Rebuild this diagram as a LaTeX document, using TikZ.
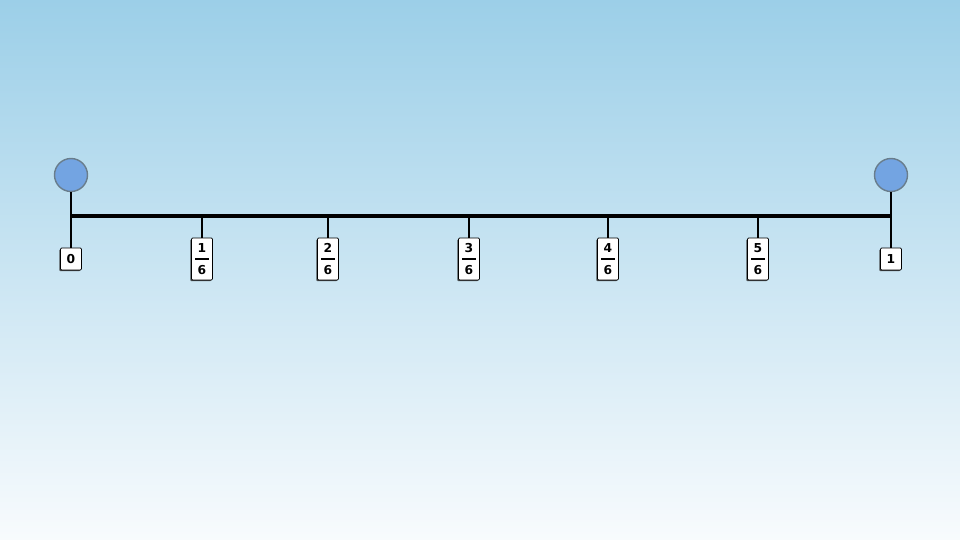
\documentclass[tikz,border=0pt]{standalone}
\usepackage{amsmath}
\usepackage{fontspec}
\setmainfont{DejaVu Sans}
\usepackage{xcolor}
\definecolor{skytop}{RGB}{156,207,232}
\definecolor{skybottom}{RGB}{248,251,253}
\definecolor{dotblue}{RGB}{115,164,226}
\definecolor{dotrim}{RGB}{105,125,140}
\usetikzlibrary{shadows}

\begin{document}
\begin{tikzpicture}[x=0.02cm, y=-0.02cm, every node/.style={font=\bfseries\fontsize{7}{8}\selectfont},
  dot/.style={circle, fill=dotblue, draw=dotrim, line width=0.8pt, minimum size=0.66cm, inner sep=0pt},
  lbl/.style={draw, fill=white, line width=0.4pt, rounded corners=0.6pt, inner sep=0pt, minimum width=0.42cm,
    drop shadow={shadow xshift=-0.7pt, shadow yshift=-0.7pt, opacity=0.85, fill=black!80}},
  stem/.style={line width=1.1pt},
  axis/.style={line width=2.3pt}]
  \fill[top color=skytop, bottom color=skybottom] (0,0) rectangle (960,540);
  \useasboundingbox (0,0) rectangle (960,540);
  % end points
  \node[dot] (s) at (71,175) {};
  \node[dot] (e) at (891,175) {};
  \node[lbl, minimum height=0.44cm] (l0) at (71,259) {0};
  \node[lbl, minimum height=0.44cm] (l6) at (891,259) {1};
  \coordinate (a0) at (71,216);
  \coordinate (a6) at (891,216);
  \draw[stem] (s) -- (l0);
  \draw[stem] (e) -- (l6);
  % sixths
  \foreach \x/\n in {202/1, 328/2, 469/3, 608/4, 758/5} {
    \node[lbl, minimum height=0.84cm] (f\n) at (\x,259) {$\genfrac{}{}{1pt}{0}{\makebox[7.5pt]{\n}}{\makebox[7.5pt]{6}}$};
    \coordinate (t\n) at (\x,216);
    \draw[stem] (t\n) -- (f\n);
  }
  \draw[axis] (a0) -- (a6);
\end{tikzpicture}
\end{document}
